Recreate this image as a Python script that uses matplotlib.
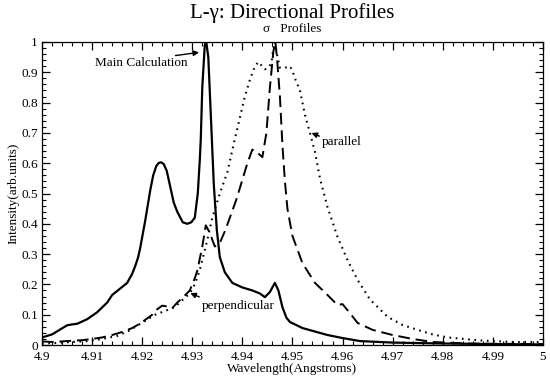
#!/usr/bin/env python3
"""
L-gamma directional line profiles (main calculation, perpendicular, parallel)
"""

import matplotlib
matplotlib.use('Agg')
import matplotlib.pyplot as plt
from matplotlib.ticker import MultipleLocator, FuncFormatter

# main calculation (solid)
main_x = [4.900, 4.902, 4.9035, 4.905, 4.906, 4.907, 4.909, 4.911, 4.913, 4.914,
          4.9155, 4.917, 4.918, 4.9186, 4.9192, 4.9196, 4.9206, 4.9216, 4.9222, 4.9228,
          4.9233, 4.9238, 4.9243, 4.9249, 4.9255, 4.9263, 4.927, 4.9281, 4.929, 4.9298,
          4.9305, 4.9311, 4.9315, 4.9317, 4.932, 4.9325, 4.9328, 4.9332, 4.9337, 4.9343,
          4.9349, 4.9355, 4.9365, 4.938, 4.940, 4.942, 4.9435, 4.9445, 4.9455, 4.9465,
          4.9472, 4.948, 4.9488, 4.9495, 4.952, 4.957, 4.960, 4.9635, 4.970, 4.980,
          4.990, 5.000]
main_y = [0.025, 0.035, 0.05, 0.065, 0.068, 0.07, 0.085, 0.108, 0.14, 0.165,
          0.185, 0.205, 0.235, 0.26, 0.29, 0.32, 0.41, 0.51, 0.56, 0.59,
          0.601, 0.603, 0.597, 0.575, 0.53, 0.47, 0.44, 0.405, 0.40, 0.405,
          0.42, 0.50, 0.61, 0.68, 0.85, 0.99, 1.0, 0.95, 0.76, 0.53,
          0.38, 0.29, 0.24, 0.205, 0.19, 0.18, 0.17, 0.158, 0.175, 0.205,
          0.18, 0.125, 0.09, 0.076, 0.056, 0.033, 0.023, 0.013, 0.008, 0.005,
          0.003, 0.002]

# perpendicular (dashed)
perp_x = [4.900, 4.902, 4.904, 4.906, 4.908, 4.910, 4.912, 4.914, 4.916, 4.918,
          4.9195, 4.9206, 4.922, 4.923, 4.924, 4.925, 4.926, 4.927, 4.928, 4.9295,
          4.9305, 4.931, 4.932, 4.9327, 4.9335, 4.9345, 4.9355, 4.9365, 4.9375, 4.9388,
          4.940, 4.941, 4.942, 4.943, 4.944, 4.9448, 4.9455, 4.9462, 4.9466, 4.947,
          4.9475, 4.948, 4.9485, 4.949, 4.950, 4.952, 4.9545, 4.957, 4.959, 4.960,
          4.9615, 4.963, 4.966, 4.970, 4.974, 4.978, 4.985, 5.000]
perp_y = [0.012, 0.01, 0.012, 0.014, 0.016, 0.02, 0.025, 0.033, 0.043, 0.056,
          0.07, 0.083, 0.1, 0.118, 0.13, 0.127, 0.122, 0.14, 0.155, 0.18,
          0.22, 0.245, 0.325, 0.395, 0.37, 0.325, 0.337, 0.375, 0.42, 0.48,
          0.545, 0.6, 0.645, 0.635, 0.62, 0.7, 0.85, 0.97, 1.0, 0.93,
          0.82, 0.66, 0.54, 0.45, 0.36, 0.27, 0.205, 0.165, 0.132, 0.135,
          0.105, 0.073, 0.05, 0.033, 0.02, 0.01, 0.005, 0.003]

# parallel (dotted)
par_x = [4.900, 4.903, 4.906, 4.909, 4.912, 4.915, 4.9175, 4.9186, 4.9206, 4.9226,
         4.9245, 4.9265, 4.928, 4.9295, 4.9305, 4.9315, 4.933, 4.934, 4.9355, 4.937,
         4.9385, 4.9395, 4.9405, 4.9415, 4.9425, 4.9432, 4.9445, 4.9452, 4.9458, 4.9462,
         4.9465, 4.9469, 4.9475, 4.9485, 4.9495, 4.950, 4.9505, 4.9515, 4.9525, 4.9535,
         4.9545, 4.9555, 4.957, 4.959, 4.961, 4.963, 4.9655, 4.969, 4.972, 4.975,
         4.978, 4.981, 4.9875, 4.994, 5.000]
par_y = [0.005, 0.007, 0.01, 0.013, 0.02, 0.03, 0.048, 0.06, 0.08, 0.1,
         0.112, 0.125, 0.148, 0.17, 0.2, 0.247, 0.347, 0.42, 0.5, 0.57,
         0.68, 0.75, 0.82, 0.875, 0.92, 0.934, 0.91, 0.915, 0.93, 0.98,
         1.0, 0.96, 0.915, 0.915, 0.92, 0.905, 0.88, 0.84, 0.76, 0.70,
         0.637, 0.55, 0.455, 0.357, 0.28, 0.215, 0.15, 0.093, 0.066, 0.05,
         0.035, 0.025, 0.015, 0.01, 0.01]

plt.rcParams['font.family'] = ['Liberation Serif', 'DejaVu Serif']
plt.rcParams['mathtext.fontset'] = 'stix'

fig = plt.figure(figsize=(5.5, 3.76), dpi=100)
ax = fig.add_axes([0.0764, 0.0824, 0.9106, 0.8059])

ax.plot(main_x, main_y, color='black', lw=1.6)
ax.plot(perp_x, perp_y, color='black', lw=1.4, linestyle=(0, (6, 3)))
ax.plot(par_x, par_y, color='black', lw=1.5, linestyle=(0, (0.8, 2.2)))

ax.set_xlim(4.9, 5.0)
ax.set_ylim(0, 1)
ax.xaxis.set_major_locator(MultipleLocator(0.01))
ax.xaxis.set_minor_locator(MultipleLocator(0.002))
ax.yaxis.set_major_locator(MultipleLocator(0.1))
ax.yaxis.set_minor_locator(MultipleLocator(0.02))
ax.xaxis.set_major_formatter(FuncFormatter(lambda v, p: '%g' % round(v, 3)))
ax.yaxis.set_major_formatter(FuncFormatter(lambda v, p: '%g' % round(v, 2)))
ax.tick_params(which='both', direction='in', top=True, right=True, labelsize=9.5)
ax.tick_params(which='major', length=6, width=0.9, pad=3)
ax.tick_params(axis='x', which='major', pad=4.5)
ax.tick_params(which='minor', length=3, width=0.8)
for s in ax.spines.values():
    s.set_linewidth(0.9)

ax.set_xlabel('Wavelength(Angstroms)', fontsize=9.5, labelpad=0)
ax.set_ylabel('Intensity(arb.units)', fontsize=9.5, labelpad=1)

fig.text(0.532, 0.965, 'L-γ: Directional Profiles', ha='center', va='center', fontsize=15)
fig.text(0.532, 0.922, 'σ   Profiles', ha='center', va='center', fontsize=9.5)

arrow = dict(arrowstyle='-|>', color='black', lw=1.0, mutation_scale=8)
ax.annotate('', xy=(4.9319, 0.967), xytext=(4.9261, 0.954), arrowprops=arrow)
ax.text(4.9198, 0.931, 'Main Calculation', ha='center', va='center', fontsize=9.5)
ax.annotate('', xy=(4.9291, 0.175), xytext=(4.9319, 0.155), arrowprops=arrow)
ax.text(4.9391, 0.129, 'perpendicular', ha='center', va='center', fontsize=9.5)
ax.annotate('', xy=(4.9533, 0.703), xytext=(4.9559, 0.686), arrowprops=arrow)
ax.text(4.9599, 0.670, 'parallel', ha='center', va='center', fontsize=9.5)

fig.savefig('out.png', dpi=100)
